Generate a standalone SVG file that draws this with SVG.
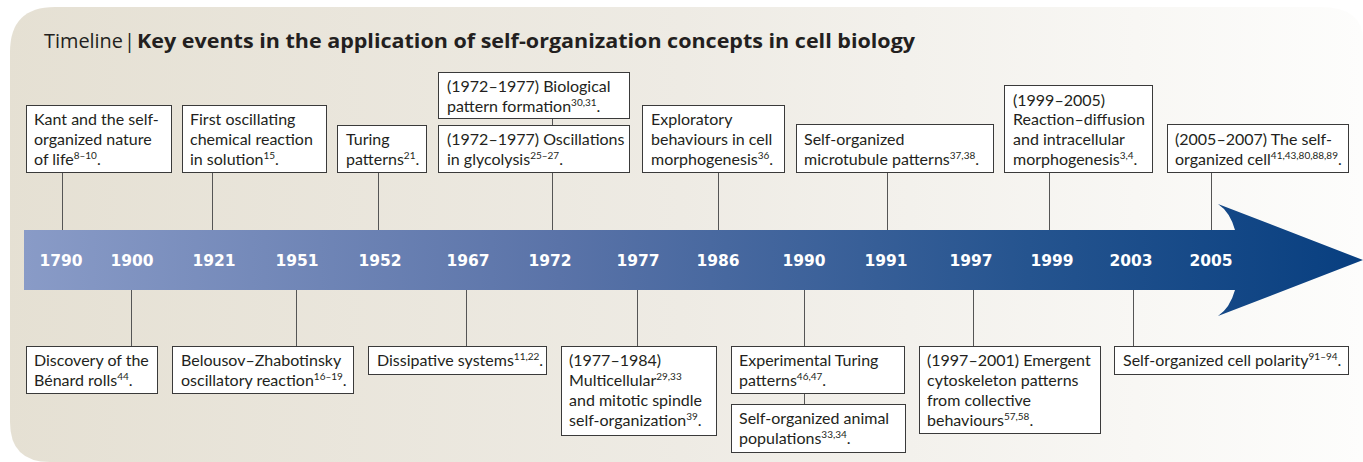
<svg xmlns="http://www.w3.org/2000/svg" width="1363" height="462" viewBox="0 0 1363 462">
<defs>
<linearGradient id="bg" x1="0" y1="0" x2="1363" y2="0" gradientUnits="userSpaceOnUse">
<stop offset="0" stop-color="#e5e0d3"/>
<stop offset="0.5" stop-color="#eeebe4"/>
<stop offset="1" stop-color="#fdfdfc"/>
</linearGradient>
<linearGradient id="band" x1="24" y1="0" x2="1363" y2="0" gradientUnits="userSpaceOnUse">
<stop offset="0" stop-color="#899bc7"/>
<stop offset="0.4" stop-color="#5a73a8"/>
<stop offset="0.75" stop-color="#25548f"/>
<stop offset="1" stop-color="#083f80"/>
</linearGradient>
<style>
.box{fill:#fff;stroke:#3a3a3a;stroke-width:1}
.ln{stroke:#555;stroke-width:1;fill:none}
.t{font-family:Lato,"Liberation Sans",sans-serif;font-size:16px;fill:#231f20}
.s{font-size:10px}
.yr{font-family:"DejaVu Sans",sans-serif;font-weight:bold;font-size:15.5px;fill:#fff;text-anchor:middle}
.ti{font-family:"Open Sans","Liberation Sans",sans-serif;font-size:20px;fill:#231f20}
</style>
</defs>
<path d="M55,7 H1320 Q1363,7 1363,40 V462 H50 Q10,462 10,422 V52 Q10,7 55,7 Z" fill="url(#bg)"/>
<g id="title">
<text class="ti" x="44" y="48" textLength="79" lengthAdjust="spacingAndGlyphs">Timeline</text>
<text class="ti" x="124" y="48">|</text>
<text class="ti" x="137" y="48" font-weight="bold" textLength="778" lengthAdjust="spacingAndGlyphs">Key events in the application of self-organization concepts in cell biology</text>
</g>

<g id="connectors">
<path class="ln" d="M62.5,173V230 M212.5,173V230 M378.5,172V230 M552.5,119V125 M552.5,172V230 M718.5,172V230 M887.5,172V230 M1049.5,172V230 M1211.5,172V230"/>
<path class="ln" d="M131.5,290V346 M296.5,290V346 M466.5,290V346 M637.5,290V346 M804.5,290V346 M804.5,394V404 M973.5,290V346 M1133.5,290V346"/>
</g>

<g id="timeline">
<path d="M24,230 H1235 Q1230,212 1218,204 L1363,260 L1218,316 Q1230,308 1235,290 H24 Z" fill="url(#band)"/>
<text class="yr" x="61" y="266">1790</text>
<text class="yr" x="132" y="266">1900</text>
<text class="yr" x="214" y="266">1921</text>
<text class="yr" x="297" y="266">1951</text>
<text class="yr" x="380" y="266">1952</text>
<text class="yr" x="468" y="266">1967</text>
<text class="yr" x="550" y="266">1972</text>
<text class="yr" x="638" y="266">1977</text>
<text class="yr" x="718" y="266">1986</text>
<text class="yr" x="804" y="266">1990</text>
<text class="yr" x="886" y="266">1991</text>
<text class="yr" x="971" y="266">1997</text>
<text class="yr" x="1052" y="266">1999</text>
<text class="yr" x="1131" y="266">2003</text>
<text class="yr" x="1211" y="266">2005</text>
</g>

<g id="n1790">
<rect class="box" x="26.5" y="105.5" width="145" height="67"/>
<text class="t"><tspan x="34" y="125">Kant and the self-</tspan><tspan x="34" y="145">organized nature</tspan><tspan x="34" y="165">of life<tspan class="s" dy="-6">8–10</tspan><tspan dy="6">.</tspan></tspan></text>
</g>
<g id="n1921">
<rect class="box" x="182.5" y="105.5" width="144" height="67"/>
<text class="t"><tspan x="190" y="125">First oscillating</tspan><tspan x="190" y="145">chemical reaction</tspan><tspan x="190" y="165">in solution<tspan class="s" dy="-6">15</tspan><tspan dy="6">.</tspan></tspan></text>
</g>
<g id="n1952">
<rect class="box" x="337.5" y="125.5" width="89" height="47"/>
<text class="t"><tspan x="346" y="145">Turing</tspan><tspan x="346" y="165">patterns<tspan class="s" dy="-6">21</tspan><tspan dy="6">.</tspan></tspan></text>
</g>
<g id="n1972a">
<rect class="box" x="438.5" y="72.5" width="191" height="46"/>
<text class="t"><tspan x="447" y="92">(1972–1977) Biological</tspan><tspan x="447" y="112">pattern formation<tspan class="s" dy="-6">30,31</tspan><tspan dy="6">.</tspan></tspan></text>
</g>
<g id="n1972b">
<rect class="box" x="438.5" y="125.5" width="191" height="47"/>
<text class="t"><tspan x="447" y="145">(1972–1977) Oscillations</tspan><tspan x="447" y="165">in glycolysis<tspan class="s" dy="-6">25–27</tspan><tspan dy="6">.</tspan></tspan></text>
</g>
<g id="n1986">
<rect class="box" x="642.5" y="105.5" width="142" height="67"/>
<text class="t"><tspan x="651" y="125">Exploratory</tspan><tspan x="651" y="145">behaviours in cell</tspan><tspan x="651" y="165">morphogenesis<tspan class="s" dy="-6">36</tspan><tspan dy="6">.</tspan></tspan></text>
</g>
<g id="n1991">
<rect class="box" x="796.5" y="124.5" width="197" height="48"/>
<text class="t"><tspan x="804" y="145">Self-organized</tspan><tspan x="804" y="165">microtubule patterns<tspan class="s" dy="-6">37,38</tspan><tspan dy="6">.</tspan></tspan></text>
</g>
<g id="n1999">
<rect class="box" x="1004.5" y="85.5" width="148" height="87"/>
<text class="t"><tspan x="1013" y="106">(1999–2005)</tspan><tspan x="1013" y="125">Reaction–diffusion</tspan><tspan x="1013" y="145">and intracellular</tspan><tspan x="1013" y="165">morphogenesis<tspan class="s" dy="-6">3,4</tspan><tspan dy="6">.</tspan></tspan></text>
</g>
<g id="n2005">
<rect class="box" x="1167.5" y="124.5" width="181" height="48"/>
<text class="t"><tspan x="1175" y="145">(2005–2007) The self-</tspan><tspan x="1175" y="165">organized cell<tspan class="s" dy="-6">41,43,80,88,89</tspan><tspan dy="6">.</tspan></tspan></text>
</g>

<g id="n1900">
<rect class="box" x="26.5" y="346.5" width="131" height="47"/>
<text class="t"><tspan x="34" y="366">Discovery of the</tspan><tspan x="34" y="386">Bénard rolls<tspan class="s" dy="-6">44</tspan><tspan dy="6">.</tspan></tspan></text>
</g>
<g id="n1951">
<rect class="box" x="172.5" y="346.5" width="181" height="47"/>
<text class="t"><tspan x="181" y="366">Belousov–Zhabotinsky</tspan><tspan x="181" y="386">oscillatory reaction<tspan class="s" dy="-6">16–19</tspan><tspan dy="6">.</tspan></tspan></text>
</g>
<g id="n1967">
<rect class="box" x="368.5" y="346.5" width="178" height="28"/>
<text class="t" x="377" y="366">Dissipative systems<tspan class="s" dy="-6">11,22</tspan><tspan dy="6">.</tspan></text>
</g>
<g id="n1977">
<rect class="box" x="561.5" y="346.5" width="155" height="89"/>
<text class="t"><tspan x="569" y="366">(1977–1984)</tspan><tspan x="569" y="386">Multicellular<tspan class="s" dy="-6">29,33</tspan></tspan><tspan x="569" y="406">and mitotic spindle</tspan><tspan x="569" y="426">self-organization<tspan class="s" dy="-6">39</tspan><tspan dy="6">.</tspan></tspan></text>
</g>
<g id="n1990a">
<rect class="box" x="731.5" y="346.5" width="173" height="47"/>
<text class="t"><tspan x="739" y="366">Experimental Turing</tspan><tspan x="739" y="386">patterns<tspan class="s" dy="-6">46,47</tspan><tspan dy="6">.</tspan></tspan></text>
</g>
<g id="n1990b">
<rect class="box" x="731.5" y="404.5" width="174" height="48"/>
<text class="t"><tspan x="739" y="424">Self-organized animal</tspan><tspan x="739" y="444">populations<tspan class="s" dy="-6">33,34</tspan><tspan dy="6">.</tspan></tspan></text>
</g>
<g id="n1997">
<rect class="box" x="919.5" y="346.5" width="181" height="87"/>
<text class="t"><tspan x="927" y="366">(1997–2001) Emergent</tspan><tspan x="927" y="386">cytoskeleton patterns</tspan><tspan x="927" y="406">from collective</tspan><tspan x="927" y="426">behaviours<tspan class="s" dy="-6">57,58</tspan><tspan dy="6">.</tspan></tspan></text>
</g>
<g id="n2003">
<rect class="box" x="1114.5" y="346.5" width="234" height="28"/>
<text class="t" x="1123" y="366">Self-organized cell polarity<tspan class="s" dy="-6">91–94</tspan><tspan dy="6">.</tspan></text>
</g>
</svg>
